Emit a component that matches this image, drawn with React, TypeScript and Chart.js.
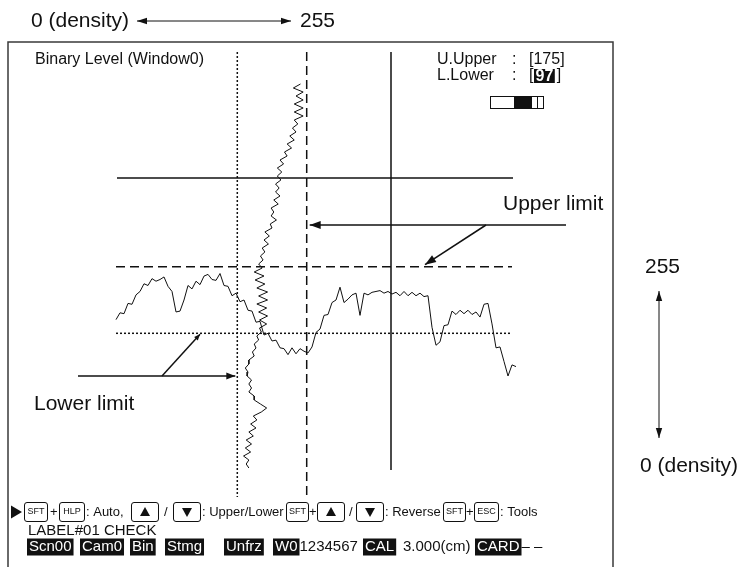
import { useEffect, useRef } from "react";
import { Chart, registerables } from "chart.js";

Chart.register(...registerables);

const W = 739;
const H = 567;
const FONT = '"Liberation Sans", Arial, Helvetica, sans-serif';

// Binary levels (density 0-255)
const upperLevel = 175;
const lowerLevel = 97;

// Density profile along the scan row, one sample every hStep columns
const hStep = 4;
const hProfile = [
  113, 121, 120, 132, 131, 142, 146, 155, 153, 161,
  158, 160, 163, 152, 146, 122, 123, 136, 153, 149,
  158, 154, 164, 166, 160, 159, 167, 153, 152, 141,
  144, 134, 136, 124, 123, 110, 111, 95, 97, 88,
  89, 80, 79, 72, 80, 73, 79, 76, 74, 81,
  98, 102, 118, 119, 133, 136, 151, 133, 137, 142,
  144, 118, 144, 142, 145, 146, 147, 144, 146, 143,
  145, 141, 146, 141, 145, 141, 144, 140, 141, 104,
  83, 87, 106, 107, 123, 119, 124, 120, 124, 119,
  122, 116, 131, 132, 108, 80, 81, 64, 47, 60,
  58,
];

// Density profile down the scan column, one sample every vStep rows
const vStep = 4;
const vProfile = [
  168, 160, 171, 163, 171, 161, 171, 161, 171, 161,
  165, 159, 163, 156, 161, 153, 158, 150, 153, 145,
  149, 142, 147, 142, 146, 140, 144, 140, 145, 138,
  143, 135, 138, 135, 141, 134, 136, 128, 133, 127,
  132, 125, 128, 123, 126, 121, 125, 116, 127, 117,
  128, 119, 131, 121, 131, 119, 130, 121, 131, 122,
  130, 122, 124, 119, 121, 116, 118, 114, 116, 110,
  110, 106, 109, 108, 113, 110, 113, 110, 116, 116,
  123, 130, 124, 115, 119, 112, 118, 110, 115, 107,
  113, 106, 112, 104, 110, 107, 110,
];

// Scan cursor (row of the horizontal profile, column of the vertical profile)
const scanRow = 94;
const scanCol = 275;
const limitColRange = [0, 396];
const limitRowRange = [-32, 413];
const scanRowColRange = [1, 397];
const scanColRowRange = [-32, 386];

// Status texts
const upperText = "175";
const lowerText = "97";

function calib(v1: number, p1: number, v2: number, p2: number) {
  const k = (p2 - p1) / (v2 - v1);
  return (p: number) => v1 + (p - p1) / k;
}
const colAt = calib(0, 116, 100, 216);
const rowAt = calib(0, 84, 100, 184);
const xDenAt = calib(lowerLevel, 237.3, upperLevel, 306.7);
const yDenAt = calib(lowerLevel, 333.3, upperLevel, 266.7);

function head(ctx: CanvasRenderingContext2D, fx: number, fy: number, tx: number, ty: number, len = 10, half = 3.5) {
  const a = Math.atan2(ty - fy, tx - fx);
  const c = Math.cos(a), s = Math.sin(a);
  ctx.beginPath();
  ctx.moveTo(tx, ty);
  ctx.lineTo(tx - len * c + half * s, ty - len * s - half * c);
  ctx.lineTo(tx - len * c - half * s, ty - len * s + half * c);
  ctx.closePath();
  ctx.fill();
}
function arrow(ctx: CanvasRenderingContext2D, fx: number, fy: number, tx: number, ty: number, lw: number, both: boolean, len = 10, half = 3.5) {
  ctx.lineWidth = lw;
  ctx.beginPath();
  ctx.moveTo(fx, fy);
  ctx.lineTo(tx, ty);
  ctx.stroke();
  head(ctx, fx, fy, tx, ty, len, half);
  if (both) head(ctx, tx, ty, fx, fy, len, half);
}

type Item =
  | { k: "text"; s: string; x: number }
  | { k: "key"; s: string; x: number; w: number }
  | { k: "up"; x: number; w: number }
  | { k: "down"; x: number; w: number }
  | { k: "play"; x: number };

const keyRow: Item[] = [
  { k: "play", x: 11 },
  { k: "key", s: "SFT", x: 24, w: 23 },
  { k: "text", s: "+", x: 50 },
  { k: "key", s: "HLP", x: 59, w: 25 },
  { k: "text", s: ": Auto,", x: 86 },
  { k: "up", x: 131, w: 27 },
  { k: "text", s: "/", x: 164 },
  { k: "down", x: 173, w: 27 },
  { k: "text", s: ": Upper/Lower", x: 202 },
  { k: "key", s: "SFT", x: 286, w: 22 },
  { k: "text", s: "+", x: 309 },
  { k: "up", x: 317, w: 27 },
  { k: "text", s: "/", x: 349 },
  { k: "down", x: 356, w: 27 },
  { k: "text", s: ": Reverse", x: 385 },
  { k: "key", s: "SFT", x: 443, w: 22 },
  { k: "text", s: "+", x: 466 },
  { k: "key", s: "ESC", x: 474, w: 24 },
  { k: "text", s: ": Tools", x: 500 },
];

const statusBoxes = [
  { s: "Scn00", x: 27 },
  { s: "Cam0", x: 80 },
  { s: "Bin", x: 130 },
  { s: "Stmg", x: 165 },
  { s: "Unfrz", x: 224 },
  { s: "W0", x: 273 },
  { s: "CAL", x: 363 },
  { s: "CARD", x: 475 },
];
const statusTexts = [
  { s: "1234567", after: "W0" },
  { s: "3.000(cm)", x: 403 },
  { s: "\u2013 \u2013", after: "CARD" },
];

const screenPlugin = {
  id: "screen",
  beforeDraw(chart: any) {
    const ctx = chart.ctx as CanvasRenderingContext2D;
    ctx.save();
    ctx.fillStyle = "#fff";
    ctx.fillRect(0, 0, W, H);
    ctx.restore();
  },
  afterDatasetsDraw(chart: any) {
    const ctx = chart.ctx as CanvasRenderingContext2D;
    const sc = chart.scales;
    const ink = "#111";
    ctx.save();
    ctx.fillStyle = ink;
    ctx.strokeStyle = ink;
    ctx.textBaseline = "middle";
    ctx.textAlign = "left";

    // frame
    ctx.strokeStyle = "#3a3a3a";
    ctx.lineWidth = 1.5;
    ctx.beginPath();
    ctx.moveTo(8, H);
    ctx.lineTo(8, 42);
    ctx.lineTo(613, 42);
    ctx.lineTo(613, H);
    ctx.stroke();
    ctx.strokeStyle = ink;

    // density axis annotations
    ctx.font = `21px ${FONT}`;
    ctx.fillText("0 (density)", 31, 21);
    arrow(ctx, 137, 21, 291, 21, 1, true, 10, 3.2);
    ctx.fillText("255", 300, 21);
    ctx.fillText("255", 645, 267);
    arrow(ctx, 659, 291, 659, 438, 1, true, 10, 3.2);
    ctx.fillText("0 (density)", 640, 466);

    // screen header
    ctx.font = `16px ${FONT}`;
    ctx.fillText("Binary Level (Window0)", 35, 60);
    ctx.fillText("U.Upper", 437, 60);
    ctx.fillText(":", 512, 60);
    ctx.fillText(`[${upperText}]`, 529, 60);
    ctx.fillText("L.Lower", 437, 76);
    ctx.fillText(":", 512, 76);
    ctx.fillText("[", 529, 76);
    ctx.font = `bold 16px ${FONT}`;
    const lw = ctx.measureText(lowerText).width;
    ctx.fillRect(534, 69, lw + 3, 14);
    ctx.fillStyle = "#fff";
    ctx.fillText(lowerText, 535.5, 76.5);
    ctx.fillStyle = ink;
    ctx.font = `16px ${FONT}`;
    ctx.fillText("]", 534 + lw + 5, 76);
    // level indicator
    ctx.lineWidth = 1;
    ctx.strokeRect(490.5, 96.5, 53, 12);
    ctx.fillRect(514, 96.5, 18, 12);
    ctx.beginPath();
    ctx.moveTo(537.5, 96.5);
    ctx.lineTo(537.5, 108.5);
    ctx.stroke();

    // upper limit callout
    const xUp = sc.xDen.getPixelForValue(upperLevel);
    const yUp = sc.yDen.getPixelForValue(upperLevel);
    const xLo = sc.xDen.getPixelForValue(lowerLevel);
    const yLo = sc.yDen.getPixelForValue(lowerLevel);
    ctx.font = `21px ${FONT}`;
    ctx.fillText("Upper limit", 503, 204);
    arrow(ctx, 566, 225, xUp + 3, 225, 1.5, false, 11, 4);
    arrow(ctx, 486, 225, 425, yUp - 2, 1.5, false, 11, 4);

    // lower limit callout
    ctx.fillText("Lower limit", 34, 404);
    arrow(ctx, 78, 376, xLo - 2, 376, 1.5, false, 9, 3.5);
    arrow(ctx, 162, 376, 200, yLo + 1, 1.5, false, 6, 2.5);

    // key guidance row
    const cy = 512;
    for (const it of keyRow) {
      if (it.k === "play") {
        ctx.beginPath();
        ctx.moveTo(it.x, cy - 6.5);
        ctx.lineTo(it.x + 11, cy);
        ctx.lineTo(it.x, cy + 6.5);
        ctx.closePath();
        ctx.fill();
        continue;
      }
      if (it.k === "text") {
        ctx.font = `13px ${FONT}`;
        ctx.fillText(it.s, it.x, cy);
        continue;
      }
      ctx.lineWidth = 1;
      ctx.beginPath();
      (ctx as any).roundRect(it.x + 0.5, cy - 9.5, it.w, 19, 2.5);
      ctx.stroke();
      const mx = it.x + 0.5 + it.w / 2;
      if (it.k === "key") {
        ctx.font = `9px ${FONT}`;
        ctx.textAlign = "center";
        ctx.fillText(it.s, mx, cy);
        ctx.textAlign = "left";
      } else if (it.k === "up") {
        ctx.beginPath();
        ctx.moveTo(mx - 5, cy + 4);
        ctx.lineTo(mx + 5, cy + 4);
        ctx.lineTo(mx, cy - 5);
        ctx.closePath();
        ctx.fill();
      } else {
        ctx.beginPath();
        ctx.moveTo(mx - 5, cy - 4);
        ctx.lineTo(mx + 5, cy - 4);
        ctx.lineTo(mx, cy + 5);
        ctx.closePath();
        ctx.fill();
      }
    }

    // program name
    ctx.font = `15px ${FONT}`;
    ctx.fillText("LABEL#01 CHECK", 28, 531);

    // status row
    const sy = 547;
    const ends: Record<string, number> = {};
    for (const b of statusBoxes) {
      const w = ctx.measureText(b.s).width + 4;
      ctx.fillStyle = ink;
      ctx.fillRect(b.x, sy - 8.5, w, 17);
      ctx.fillStyle = "#fff";
      ctx.fillText(b.s, b.x + 2, sy);
      ends[b.s] = b.x + w;
    }
    ctx.fillStyle = ink;
    for (const t of statusTexts) {
      const tx = (t as any).after ? ends[(t as any).after] : (t as any).x;
      ctx.fillText(t.s, tx, sy);
    }
    ctx.restore();
  },
};

function line(data: { x: number; y: number }[], xAxisID: string, yAxisID: string, width: number, dash: number[]) {
  return {
    data,
    xAxisID,
    yAxisID,
    showLine: true,
    borderColor: "#111",
    backgroundColor: "#111",
    borderWidth: width,
    borderDash: dash,
    pointRadius: 0,
    tension: 0,
    fill: false,
  };
}

export default function App() {
  const ref = useRef<HTMLCanvasElement>(null);
  useEffect(() => {
    const datasets = [
      line(hProfile.map((v, i) => ({ x: i * hStep, y: v })), "xCol", "yDen", 1, []),
      line(vProfile.map((v, j) => ({ x: v, y: j * vStep })), "xDen", "yRow", 1, []),
      line(limitColRange.map((c) => ({ x: c, y: upperLevel })), "xCol", "yDen", 1.5, [9, 5]),
      line(limitColRange.map((c) => ({ x: c, y: lowerLevel })), "xCol", "yDen", 1.5, [2, 2]),
      line(limitRowRange.map((r) => ({ x: upperLevel, y: r })), "xDen", "yRow", 1.5, [9, 5]),
      line(limitRowRange.map((r) => ({ x: lowerLevel, y: r })), "xDen", "yRow", 1.5, [2, 2]),
      line(scanRowColRange.map((c) => ({ x: c, y: scanRow })), "xCol", "yRow", 1.5, []),
      line(scanColRowRange.map((r) => ({ x: scanCol, y: r })), "xCol", "yRow", 1.5, []),
    ];
    const chart = new Chart(ref.current as HTMLCanvasElement, {
      type: "scatter",
      data: { datasets } as any,
      options: {
        animation: false,
        responsive: false,
        maintainAspectRatio: false,
        devicePixelRatio: 1,
        events: [],
        layout: { padding: 0 },
        plugins: { legend: { display: false }, tooltip: { enabled: false }, title: { display: false } },
        scales: {
          xCol: { type: "linear", axis: "x", position: "bottom", display: false, min: colAt(0), max: colAt(W) },
          xDen: { type: "linear", axis: "x", position: "top", display: false, min: xDenAt(0), max: xDenAt(W) },
          yRow: { type: "linear", axis: "y", position: "left", reverse: true, display: false, min: rowAt(0), max: rowAt(H) },
          yDen: { type: "linear", axis: "y", position: "right", display: false, min: yDenAt(H), max: yDenAt(0) },
        },
      } as any,
      plugins: [screenPlugin],
    });
    return () => chart.destroy();
  }, []);
  return (
    <div style={{ position: "fixed", left: 0, top: 0, width: W, height: H, background: "#fff" }}>
      <canvas ref={ref} width={W} height={H} style={{ display: "block", width: W, height: H }} />
    </div>
  );
}
